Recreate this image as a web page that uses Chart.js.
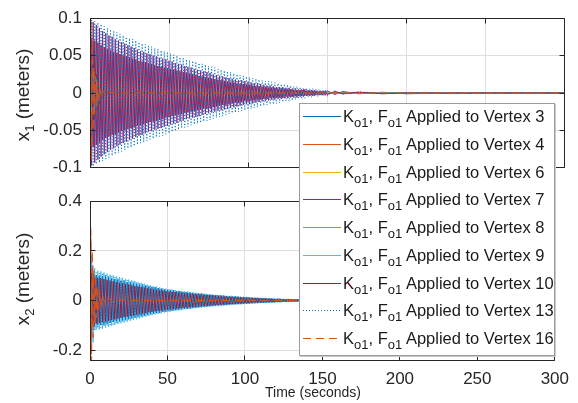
<!DOCTYPE html>
<html lang="en">
  <head>
    <meta charset="utf-8" />
    <title>Vertex displacement response</title>
    <style>
      * {
        margin: 0;
        padding: 0;
      }
      body {
        background: #fff;
        font-family: "Liberation Sans", Arial, sans-serif;
        color: #262626;
      }
      .figure {
        position: relative;
        width: 578px;
        height: 403px;
        overflow: hidden;
      }
      .figure canvas {
        position: absolute;
        left: 0;
      }
      #topChart {
        top: 0;
      }
      #bottomChart {
        top: 183px;
      }
      .yTitle {
        position: absolute;
        left: 23px;
        font-size: 19px;
        line-height: 22px;
        white-space: nowrap;
        transform: translate(-50%, -50%) rotate(-90deg);
      }
      .yTitle sub,
      .legend sub {
        font-size: 13px;
        vertical-align: -5px;
        line-height: 0;
      }
      .xTitle {
        position: absolute;
        left: 265px;
        top: 384px;
        font-size: 14px;
        line-height: 16px;
        white-space: nowrap;
      }
      .legend {
        position: absolute;
        left: 299px;
        top: 103px;
        width: 256px;
        height: 253px;
        box-sizing: border-box;
        background: #fff;
        border: 1px solid #9b9b9b;
        box-shadow: 1px 1px 0 #c9c9c9;
      }
      .legend .row {
        position: absolute;
        left: 3px;
        height: 28px;
        display: flex;
        align-items: center;
        font-size: 16.5px;
        white-space: nowrap;
        color: #1a1a1a;
      }
      .legend svg {
        display: block;
        margin-right: 2px;
      }
    </style>
  </head>
  <body>
    <div class="figure">
      <canvas id="topChart" width="578" height="186"></canvas>
      <canvas id="bottomChart" width="578" height="220"></canvas>
      <div class="yTitle" style="top: 95px">x<sub>1</sub> (meters)</div>
      <div class="yTitle" style="top: 279px">x<sub>2</sub> (meters)</div>
      <div class="xTitle">Time (seconds)</div>
      <div class="legend" id="legend"></div>
    </div>

    <script src="https://cdn.jsdelivr.net/npm/chart.js@4.4.1/dist/chart.umd.min.js"></script>

    <script>
      const vertexLabels = [3, 4, 6, 7, 8, 9, 10, 13, 16];

      const timeTicks = [0, 50, 100, 150, 200, 250, 300];
      const x1Ticks = [-0.1, -0.05, 0, 0.05, 0.1];
      const x2Ticks = [-0.2, 0, 0.2, 0.4];

      // 1 s samples over the oscillating part, then a sparse tail
      const timeFine = [
        0, 1, 2, 3, 4, 5, 6, 7, 8, 9,
        10, 11, 12, 13, 14, 15, 16, 17, 18, 19,
        20, 21, 22, 23, 24, 25, 26, 27, 28, 29,
        30, 31, 32, 33, 34, 35, 36, 37, 38, 39,
        40, 41, 42, 43, 44, 45, 46, 47, 48, 49,
        50, 51, 52, 53, 54, 55, 56, 57, 58, 59,
        60, 61, 62, 63, 64, 65, 66, 67, 68, 69,
        70, 71, 72, 73, 74, 75, 76, 77, 78, 79,
        80, 81, 82, 83, 84, 85, 86, 87, 88, 89,
        90, 91, 92, 93, 94, 95, 96, 97, 98, 99,
        100, 101, 102, 103, 104, 105, 106, 107, 108, 109,
        110, 111, 112, 113, 114, 115, 116, 117, 118, 119,
        120, 121, 122, 123, 124, 125, 126, 127, 128, 129,
        130, 131, 132, 133, 134, 135, 136, 137, 138, 139,
        140, 141, 142, 143, 144, 145, 146, 147, 148, 149,
        150, 155, 160, 170, 185, 200, 230, 260, 300,
      ];

      // half-second samples for the fast start-up transients
      const timeCoarse = [
        0, 0.5, 1, 1.5, 2, 2.5, 3, 3.5, 4, 4.5, 5, 6, 7, 8, 10, 12, 15, 20,
        30, 50, 80, 120, 160, 200, 250, 300,
      ];

      // ---- x1 (top axes) ----
      const x1V3 = [
        0.06, -0.055, 0.05, -0.045, 0.04, -0.036, 0.032, -0.028, 0.025, -0.022,
        0.019, -0.015, 0.011, -0.008, 0.005, -0.003, 0.002, -0.001, 0, 0, 0, 0,
        0, 0, 0, 0,
      ];
      const x1V4 = [
        0.095, -0.085, 0.07, -0.05, 0.03, -0.02, 0.015, -0.01, 0.008, -0.006,
        0.005, -0.003, 0.002, -0.001, 0.001, 0, 0, 0, 0, 0, 0, 0, 0, 0, 0, 0,
      ];
      const x1V6 = [
        0.03, -0.025, 0.02, -0.015, 0.01, -0.008, 0.006, -0.004, 0.003, -0.002,
        0.001, 0, 0, 0, 0, 0, 0, 0, 0, 0, 0, 0, 0, 0, 0, 0,
      ];
      const x1V7 = [
        0.100, -0.097, 0.095, -0.093, 0.091, -0.089, 0.087, -0.085, 0.083, -0.082,
        0.080, -0.079, 0.077, -0.076, 0.075, -0.074, 0.072, -0.071, 0.070, -0.069,
        0.068, -0.067, 0.066, -0.065, 0.064, -0.063, 0.062, -0.061, 0.060, -0.059,
        0.058, -0.057, 0.056, -0.056, 0.055, -0.054, 0.053, -0.052, 0.052, -0.051,
        0.050, -0.049, 0.049, -0.048, 0.047, -0.047, 0.046, -0.045, 0.045, -0.044,
        0.043, -0.042, 0.042, -0.041, 0.040, -0.040, 0.039, -0.038, 0.038, -0.037,
        0.036, -0.035, 0.035, -0.034, 0.034, -0.033, 0.032, -0.032, 0.031, -0.031,
        0.030, -0.029, 0.029, -0.028, 0.028, -0.027, 0.027, -0.026, 0.025, -0.025,
        0.024, -0.024, 0.023, -0.023, 0.022, -0.022, 0.021, -0.021, 0.020, -0.020,
        0.019, -0.019, 0.018, -0.018, 0.017, -0.017, 0.017, -0.016, 0.016, -0.015,
        0.015, -0.015, 0.014, -0.014, 0.013, -0.013, 0.013, -0.012, 0.012, -0.011,
        0.011, -0.011, 0.010, -0.010, 0.010, -0.009, 0.009, -0.009, 0.008, -0.008,
        0.008, -0.008, 0.008, -0.007, 0.007, -0.007, 0.007, -0.006, 0.006, -0.006,
        0.006, -0.006, 0.005, -0.005, 0.005, -0.005, 0.005, -0.004, 0.004, -0.004,
        0.004, -0.004, 0.004, -0.003, 0.003, -0.003, 0.003, -0.003, 0.003, -0.003,
        0.003, -0.002, 0.002, -0.001, 0.001, -0.001, 0, 0, 0,
      ];
      const x1V8 = [
        0.04, -0.035, 0.03, -0.025, 0.02, -0.015, 0.012, -0.009, 0.007, -0.005,
        0.004, -0.002, 0.001, 0, 0, 0, 0, 0, 0, 0, 0, 0, 0, 0, 0, 0,
      ];
      const x1V9 = [
        0.04, -0.037, 0.034, -0.031, 0.028, -0.025, 0.022, -0.02, 0.018, -0.016,
        0.014, -0.011, 0.009, -0.007, 0.005, -0.003, 0.002, -0.001, 0, 0, 0, 0,
        0, 0, 0, 0,
      ];
      const x1V10 = [
        -0.075, 0.073, -0.072, 0.070, -0.069, 0.067, -0.066, 0.064, -0.063, 0.061,
        -0.060, 0.059, -0.058, 0.057, -0.056, 0.055, -0.055, 0.054, -0.053, 0.052,
        -0.051, 0.050, -0.050, 0.049, -0.048, 0.048, -0.047, 0.046, -0.046, 0.045,
        -0.044, 0.043, -0.043, 0.042, -0.042, 0.041, -0.040, 0.040, -0.039, 0.039,
        -0.038, 0.037, -0.037, 0.036, -0.036, 0.035, -0.035, 0.034, -0.033, 0.033,
        -0.032, 0.032, -0.031, 0.031, -0.030, 0.030, -0.029, 0.029, -0.028, 0.028,
        -0.027, 0.027, -0.026, 0.026, -0.025, 0.025, -0.024, 0.024, -0.023, 0.023,
        -0.022, 0.022, -0.021, 0.021, -0.021, 0.020, -0.020, 0.019, -0.019, 0.018,
        -0.018, 0.018, -0.017, 0.017, -0.016, 0.016, -0.016, 0.015, -0.015, 0.014,
        -0.014, 0.014, -0.013, 0.013, -0.013, 0.012, -0.012, 0.012, -0.011, 0.011,
        -0.011, 0.011, -0.010, 0.010, -0.010, 0.009, -0.009, 0.009, -0.009, 0.008,
        -0.008, 0.008, -0.008, 0.007, -0.007, 0.007, -0.007, 0.007, -0.006, 0.006,
        -0.006, 0.006, -0.006, 0.005, -0.005, 0.005, -0.005, 0.005, -0.005, 0.004,
        -0.004, 0.004, -0.004, 0.004, -0.004, 0.004, -0.003, 0.003, -0.003, 0.003,
        -0.003, 0.003, -0.003, 0.003, -0.002, 0.002, -0.002, 0.002, -0.002, 0.002,
        -0.002, 0.002, -0.001, 0.001, -0.001, 0, 0, 0, 0,
      ];
      const x1V13 = [
        -0.100, 0.099, -0.098, 0.096, -0.095, 0.094, -0.093, 0.092, -0.091, 0.089,
        -0.088, 0.087, -0.086, 0.085, -0.084, 0.083, -0.082, 0.081, -0.080, 0.079,
        -0.078, 0.077, -0.076, 0.075, -0.074, 0.073, -0.073, 0.072, -0.071, 0.070,
        -0.069, 0.068, -0.067, 0.066, -0.066, 0.065, -0.064, 0.063, -0.062, 0.062,
        -0.061, 0.060, -0.059, 0.059, -0.058, 0.057, -0.057, 0.056, -0.055, 0.055,
        -0.054, 0.053, -0.052, 0.051, -0.051, 0.050, -0.049, 0.048, -0.047, 0.047,
        -0.046, 0.045, -0.045, 0.044, -0.043, 0.043, -0.042, 0.042, -0.041, 0.040,
        -0.040, 0.039, -0.038, 0.038, -0.037, 0.036, -0.036, 0.035, -0.034, 0.034,
        -0.033, 0.032, -0.032, 0.031, -0.031, 0.030, -0.029, 0.029, -0.028, 0.028,
        -0.027, 0.026, -0.026, 0.025, -0.025, 0.024, -0.024, 0.023, -0.023, 0.022,
        -0.022, 0.021, -0.021, 0.020, -0.020, 0.019, -0.019, 0.018, -0.018, 0.017,
        -0.017, 0.016, -0.016, 0.016, -0.015, 0.015, -0.015, 0.014, -0.014, 0.013,
        -0.013, 0.012, -0.012, 0.012, -0.011, 0.011, -0.011, 0.010, -0.010, 0.009,
        -0.009, 0.009, -0.008, 0.008, -0.008, 0.007, -0.007, 0.007, -0.006, 0.006,
        -0.006, 0.006, -0.005, 0.005, -0.005, 0.005, -0.004, 0.004, -0.004, 0.004,
        -0.004, 0.003, -0.002, 0.002, -0.001, 0.001, -0.001, 0, 0,
      ];
      const x1V16 = [
        0, 0.1, -0.09, 0.07, -0.05, 0.035, -0.028, 0.022, -0.018, 0.015, -0.012,
        0.008, -0.005, 0.003, -0.002, 0.001, 0, 0, 0, 0, 0, 0, 0, 0, 0, 0,
      ];

      // ---- x2 (bottom axes) ----
      const x2V3 = [
        0.000, -0.125, 0.110, -0.104, 0.102, -0.100, 0.099, -0.098, 0.097, -0.096,
        0.095, -0.093, 0.092, -0.090, 0.089, -0.087, 0.086, -0.084, 0.083, -0.081,
        0.080, -0.079, 0.077, -0.076, 0.074, -0.073, 0.071, -0.070, 0.069, -0.067,
        0.066, -0.065, 0.063, -0.062, 0.061, -0.060, 0.059, -0.057, 0.056, -0.055,
        0.054, -0.053, 0.052, -0.051, 0.050, -0.049, 0.047, -0.046, 0.045, -0.044,
        0.043, -0.042, 0.041, -0.041, 0.040, -0.039, 0.038, -0.037, 0.037, -0.036,
        0.035, -0.034, 0.034, -0.033, 0.032, -0.031, 0.031, -0.030, 0.029, -0.029,
        0.028, -0.027, 0.027, -0.026, 0.026, -0.025, 0.024, -0.024, 0.023, -0.023,
        0.022, -0.022, 0.021, -0.021, 0.020, -0.020, 0.019, -0.019, 0.018, -0.018,
        0.017, -0.017, 0.016, -0.016, 0.016, -0.015, 0.015, -0.014, 0.014, -0.014,
        0.013, -0.013, 0.013, -0.012, 0.012, -0.012, 0.011, -0.011, 0.011, -0.010,
        0.010, -0.010, 0.009, -0.009, 0.009, -0.009, 0.008, -0.008, 0.008, -0.008,
        0.007, -0.007, 0.007, -0.007, 0.006, -0.006, 0.006, -0.006, 0.006, -0.005,
        0.005, -0.005, 0.005, -0.005, 0.005, -0.004, 0.004, -0.004, 0.004, -0.004,
        0.004, -0.004, 0.003, -0.003, 0.003, -0.003, 0.003, -0.003, 0.003, -0.003,
        0.003, -0.002, 0.002, -0.001, 0.001, -0.001, 0, 0, 0,
      ];
      const x2V4 = [
        0.25, -0.2, 0.15, -0.12, 0.1, -0.08, 0.065, -0.055, 0.045, -0.038, 0.03,
        -0.02, 0.014, -0.01, 0.005, -0.003, 0.001, 0, 0, 0, 0, 0, 0, 0, 0, 0,
      ];
      const x2V6 = [
        0.05, -0.04, 0.03, -0.025, 0.02, -0.015, 0.01, -0.008, 0.006, -0.004,
        0.003, -0.002, 0.001, 0, 0, 0, 0, 0, 0, 0, 0, 0, 0, 0, 0, 0,
      ];
      const x2V7 = [
        0.08, -0.07, 0.06, -0.055, 0.05, -0.045, 0.04, -0.036, 0.032, -0.028,
        0.025, -0.02, 0.015, -0.01, 0.006, -0.003, 0.001, 0, 0, 0, 0, 0, 0, 0, 0,
        0,
      ];
      const x2V8 = [
        0.06, -0.05, 0.04, -0.032, 0.025, -0.02, 0.015, -0.012, 0.009, -0.007,
        0.005, -0.003, 0.002, -0.001, 0, 0, 0, 0, 0, 0, 0, 0, 0, 0, 0, 0,
      ];
      const x2V9 = [
        0.000, 0.182, -0.170, 0.130, -0.118, 0.120, -0.118, 0.117, -0.115, 0.113,
        -0.110, 0.108, -0.106, 0.104, -0.103, 0.101, -0.099, 0.097, -0.095, 0.094,
        -0.092, 0.091, -0.089, 0.087, -0.086, 0.084, -0.083, 0.081, -0.079, 0.078,
        -0.076, 0.074, -0.073, 0.071, -0.069, 0.068, -0.066, 0.064, -0.063, 0.061,
        -0.060, 0.058, -0.057, 0.056, -0.054, 0.053, -0.052, 0.050, -0.049, 0.048,
        -0.047, 0.046, -0.045, 0.044, -0.043, 0.042, -0.041, 0.040, -0.040, 0.039,
        -0.038, 0.037, -0.036, 0.036, -0.035, 0.034, -0.033, 0.032, -0.032, 0.031,
        -0.030, 0.029, -0.029, 0.028, -0.028, 0.027, -0.026, 0.026, -0.025, 0.025,
        -0.024, 0.023, -0.023, 0.022, -0.022, 0.021, -0.021, 0.020, -0.020, 0.019,
        -0.019, 0.019, -0.018, 0.018, -0.017, 0.017, -0.016, 0.016, -0.016, 0.015,
        -0.015, 0.015, -0.014, 0.014, -0.013, 0.013, -0.013, 0.012, -0.012, 0.011,
        -0.011, 0.011, -0.010, 0.010, -0.010, 0.009, -0.009, 0.009, -0.008, 0.008,
        -0.008, 0.008, -0.008, 0.007, -0.007, 0.007, -0.007, 0.006, -0.006, 0.006,
        -0.006, 0.006, -0.005, 0.005, -0.005, 0.005, -0.005, 0.004, -0.004, 0.004,
        -0.004, 0.004, -0.004, 0.003, -0.003, 0.003, -0.003, 0.003, -0.003, 0.003,
        -0.003, 0.002, -0.002, 0.001, -0.001, 0.001, 0, 0, 0,
      ];
      const x2V10 = [
        0.000, 0.110, -0.100, 0.095, -0.093, 0.091, -0.090, 0.089, -0.087, 0.086,
        -0.085, 0.083, -0.082, 0.080, -0.079, 0.077, -0.076, 0.074, -0.073, 0.071,
        -0.070, 0.069, -0.067, 0.066, -0.065, 0.064, -0.062, 0.061, -0.060, 0.058,
        -0.057, 0.056, -0.055, 0.054, -0.053, 0.052, -0.051, 0.050, -0.048, 0.047,
        -0.046, 0.045, -0.044, 0.043, -0.042, 0.041, -0.041, 0.040, -0.039, 0.038,
        -0.037, 0.036, -0.036, 0.035, -0.034, 0.034, -0.033, 0.032, -0.032, 0.031,
        -0.030, 0.030, -0.029, 0.028, -0.028, 0.027, -0.027, 0.026, -0.025, 0.025,
        -0.024, 0.024, -0.023, 0.023, -0.022, 0.022, -0.021, 0.021, -0.020, 0.020,
        -0.019, 0.019, -0.018, 0.018, -0.017, 0.017, -0.017, 0.016, -0.016, 0.015,
        -0.015, 0.015, -0.014, 0.014, -0.014, 0.013, -0.013, 0.012, -0.012, 0.012,
        -0.011, 0.011, -0.011, 0.010, -0.010, 0.010, -0.009, 0.009, -0.009, 0.009,
        -0.008, 0.008, -0.008, 0.008, -0.007, 0.007, -0.007, 0.007, -0.007, 0.006,
        -0.006, 0.006, -0.006, 0.006, -0.005, 0.005, -0.005, 0.005, -0.005, 0.005,
        -0.005, 0.004, -0.004, 0.004, -0.004, 0.004, -0.004, 0.003, -0.003, 0.003,
        -0.003, 0.003, -0.003, 0.003, -0.003, 0.002, -0.002, 0.002, -0.002, 0.002,
        -0.002, 0.002, -0.001, 0.001, -0.001, 0, 0, 0, 0,
      ];
      const x2V13 = [
        0.000, -0.150, 0.140, -0.120, 0.112, -0.112, 0.110, -0.109, 0.107, -0.105,
        0.104, -0.102, 0.100, -0.099, 0.097, -0.096, 0.094, -0.092, 0.091, -0.089,
        0.088, -0.086, 0.085, -0.083, 0.082, -0.080, 0.079, -0.077, 0.076, -0.074,
        0.073, -0.071, 0.070, -0.068, 0.066, -0.065, 0.063, -0.062, 0.060, -0.059,
        0.057, -0.056, 0.055, -0.053, 0.052, -0.051, 0.050, -0.048, 0.047, -0.046,
        0.045, -0.044, 0.043, -0.042, 0.041, -0.040, 0.039, -0.039, 0.038, -0.037,
        0.036, -0.035, 0.035, -0.034, 0.033, -0.032, 0.032, -0.031, 0.030, -0.030,
        0.029, -0.028, 0.028, -0.027, 0.026, -0.026, 0.025, -0.025, 0.024, -0.024,
        0.023, -0.022, 0.022, -0.021, 0.021, -0.020, 0.020, -0.019, 0.019, -0.018,
        0.018, -0.018, 0.017, -0.017, 0.016, -0.016, 0.015, -0.015, 0.015, -0.014,
        0.014, -0.014, 0.013, -0.013, 0.012, -0.012, 0.012, -0.011, 0.011, -0.011,
        0.010, -0.010, 0.010, -0.009, 0.009, -0.009, 0.008, -0.008, 0.008, -0.008,
        0.007, -0.007, 0.007, -0.007, 0.006, -0.006, 0.006, -0.006, 0.006, -0.005,
        0.005, -0.005, 0.005, -0.005, 0.005, -0.004, 0.004, -0.004, 0.004, -0.004,
        0.004, -0.003, 0.003, -0.003, 0.003, -0.003, 0.003, -0.003, 0.002, -0.002,
        0.002, -0.002, 0.001, -0.001, 0.001, 0, 0, 0, 0,
      ];
      const x2V16 = [
        0, 0.3, -0.3, 0.2, -0.15, 0.12, -0.1, 0.085, -0.07, 0.06, -0.05, 0.04,
        -0.03, 0.022, -0.015, 0.01, -0.005, 0.002, 0, 0, 0, 0, 0, 0, 0, 0,
      ];

      const x1Values = [x1V3, x1V4, x1V6, x1V7, x1V8, x1V9, x1V10, x1V13, x1V16];
      const x1Times = [
        timeCoarse, timeCoarse, timeCoarse, timeFine, timeCoarse,
        timeCoarse, timeFine, timeFine, timeCoarse,
      ];
      const x2Values = [x2V3, x2V4, x2V6, x2V7, x2V8, x2V9, x2V10, x2V13, x2V16];
      const x2Times = [
        timeFine, timeCoarse, timeCoarse, timeCoarse, timeCoarse,
        timeFine, timeFine, timeFine, timeCoarse,
      ];

      // MATLAB default colour order, the last two lines dotted and dashed
      const lineColors = [
        "#0072BD", "#D95319", "#EDB120", "#7E2F8E", "#77AC30",
        "#4DBEEE", "#A2142F", "#0072BD", "#D95319",
      ];
      const lineDashes = [[], [], [], [], [], [], [], [1, 2], [8, 5]];
      const gridColor = "#dedede";
      const axisColor = "#262626";

      Chart.defaults.font.family = '"Liberation Sans", Arial, sans-serif';
      Chart.defaults.color = axisColor;

      // closed box round the plot area with short inward tick marks on all four sides
      const axesBox = {
        id: "axesBox",
        afterDatasetsDraw(chart) {
          const { ctx, chartArea: a, scales } = chart;
          const snap = (p) => Math.round(p - 0.5) + 0.5;
          const left = snap(a.left);
          const right = snap(a.right);
          const top = snap(a.top);
          const bottom = snap(a.bottom);
          ctx.save();
          ctx.strokeStyle = axisColor;
          ctx.lineWidth = 1;
          ctx.beginPath();
          scales.x.ticks.forEach((t) => {
            const px = snap(scales.x.getPixelForValue(t.value));
            ctx.moveTo(px, bottom);
            ctx.lineTo(px, bottom - 5);
            ctx.moveTo(px, top);
            ctx.lineTo(px, top + 5);
          });
          scales.y.ticks.forEach((t) => {
            const py = snap(scales.y.getPixelForValue(t.value));
            ctx.moveTo(left, py);
            ctx.lineTo(left + 5, py);
            ctx.moveTo(right, py);
            ctx.lineTo(right - 5, py);
          });
          ctx.rect(left, top, right - left, bottom - top);
          ctx.stroke();
          ctx.restore();
        },
      };

      const makeDatasets = (values, times) =>
        values.map((ys, i) => ({
          label: `Vertex ${vertexLabels[i]}`,
          data: ys.map((y, k) => ({ x: times[i][k], y })),
          borderColor: lineColors[i],
          borderDash: lineDashes[i],
          borderWidth: 1,
          pointRadius: 0,
          tension: 0,
          fill: false,
          // later vertices are drawn over earlier ones
          order: values.length - 1 - i,
        }));

      const makeChart = (id, datasets, yRange, yTicks, xOpts) =>
        new Chart(document.getElementById(id), {
          type: "line",
          data: { datasets },
          options: {
            responsive: false,
            animation: false,
            events: [],
            layout: { padding: { top: xOpts.top, right: 14, bottom: 0, left: 0 } },
            plugins: { legend: { display: false }, tooltip: { enabled: false } },
            scales: {
              x: {
                type: "linear",
                min: 0,
                max: 300,
                afterBuildTicks: (s) => {
                  s.ticks = timeTicks.map((v) => ({ value: v }));
                },
                afterFit: (s) => {
                  s.height = xOpts.height;
                },
                grid: { color: gridColor, drawTicks: false },
                border: { display: false },
                ticks: {
                  display: xOpts.labels,
                  padding: 9,
                  maxRotation: 0,
                  autoSkip: false,
                  font: { size: 17 },
                },
              },
              y: {
                min: yRange[0],
                max: yRange[1],
                afterBuildTicks: (s) => {
                  s.ticks = yTicks.map((v) => ({ value: v }));
                },
                afterFit: (s) => {
                  s.width = 90;
                },
                grid: { color: gridColor, drawTicks: false },
                border: { display: false },
                ticks: {
                  padding: 8,
                  font: { size: 17 },
                  callback: (v) => String(v),
                },
              },
            },
          },
          plugins: [axesBox],
        });

      makeChart("topChart", makeDatasets(x1Values, x1Times), [-0.1, 0.1], x1Ticks, {
        top: 13,
        height: 8,
        labels: false,
      });
      makeChart("bottomChart", makeDatasets(x2Values, x2Times), [-0.24, 0.4], x2Ticks, {
        top: 12,
        height: 43,
        labels: true,
      });

      // legend box spanning both axes
      const legend = document.getElementById("legend");
      vertexLabels.forEach((v, i) => {
        const row = document.createElement("div");
        row.className = "row";
        row.style.top = `${Math.round(-2 + i * 27.75)}px`;
        const dash = lineDashes[i].length ? lineDashes[i].join(" ") : "none";
        row.innerHTML =
          `<svg width="38" height="4"><line x1="0" y1="2.5" x2="38" y2="2.5" ` +
          `stroke="${lineColors[i]}" stroke-width="1" stroke-dasharray="${dash}"/></svg>` +
          `<span>K<sub>o1</sub>, F<sub>o1</sub> Applied to Vertex ${v}</span>`;
        legend.appendChild(row);
      });
    </script>
  </body>
</html>
